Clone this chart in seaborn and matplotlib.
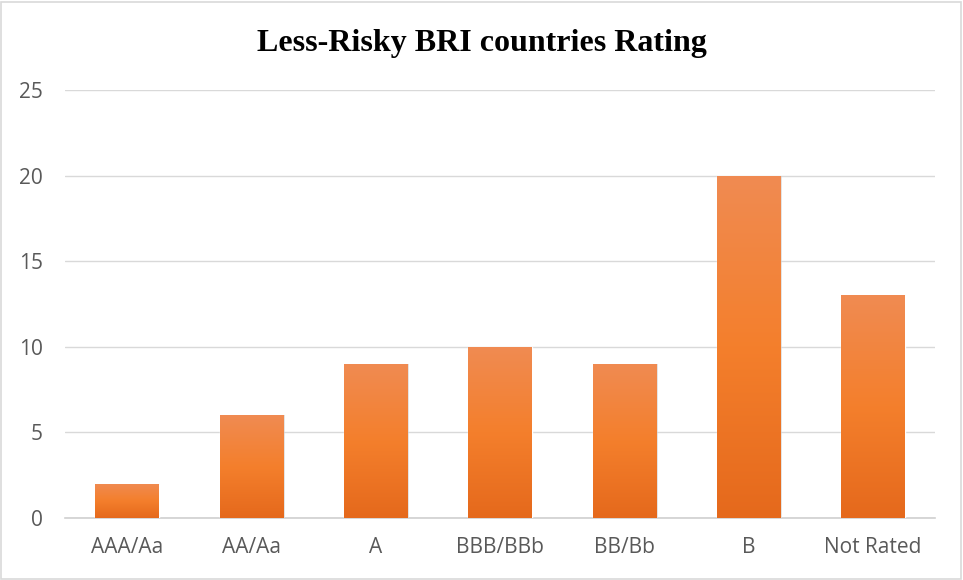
import matplotlib
matplotlib.use("Agg")
import matplotlib.pyplot as plt
import seaborn as sns
import numpy as np
import pandas as pd
from matplotlib.colors import LinearSegmentedColormap
from matplotlib.patches import Rectangle

categories = ["AAA/Aa", "AA/Aa", "A", "BBB/BBb", "BB/Bb", "B", "Not Rated"]
values = [2, 6, 9, 10, 9, 20, 13]
yticks = [0, 5, 10, 15, 20, 25]
title = "Less-Risky BRI countries Rating"

sns.set_style("white")
plt.rcParams["font.family"] = ["Open Sans", "DejaVu Sans"]

df = pd.DataFrame({"cat": categories, "val": values})

fig = plt.figure(figsize=(9.63, 5.8), dpi=100)
ax = fig.add_axes([0.0675, 0.107, 0.9035, 0.738])

sns.barplot(data=df, x="cat", y="val", color="#ED7D31", width=0.51,
            saturation=1, ax=ax, zorder=3)

cmap = LinearSegmentedColormap.from_list("g", ["#E5691C", "#F47F2C", "#F08B52"])
grad = np.linspace(0, 1, 256).reshape(-1, 1)
for p in ax.patches:
    x0, y0 = p.get_x(), p.get_y()
    w, h = p.get_width(), p.get_height()
    sh = Rectangle((x0 + 0.012, y0), w, h, facecolor="#BFBFBF", edgecolor="none",
                   alpha=0.5, zorder=2.5)
    ax.add_patch(sh)
    im = ax.imshow(grad, extent=[x0, x0 + w, y0, y0 + h], origin="lower",
                   cmap=cmap, aspect="auto", zorder=3.5)
    im.set_clip_path(p)

ax.set_xlim(-0.5, len(categories) - 0.5)
ax.set_ylim(0, 25)
ax.set_yticks(yticks)
ax.yaxis.grid(True, color="#D9D9D9", linewidth=1.0, zorder=0)
ax.set_axisbelow(True)
for s in ["top", "right", "left"]:
    ax.spines[s].set_visible(False)
ax.spines["bottom"].set_color("#D0D0D0")
ax.spines["bottom"].set_linewidth(1.2)
ax.tick_params(axis="both", length=0, labelsize=15, colors="#595959")
ax.tick_params(axis="x", pad=14)
ax.tick_params(axis="y", pad=16)
ax.set_xlabel("")
ax.set_ylabel("")

fig.text(0.5, 0.925, title, ha="center", va="center", fontsize=23,
         fontweight="bold", family=["Liberation Serif", "DejaVu Serif"], color="#000000")

fig.patches.append(Rectangle((0.001, 0.002), 0.997, 0.995, transform=fig.transFigure,
                             fill=False, edgecolor="#D9D9D9", linewidth=1.2))

fig.savefig("out.png", dpi=100)
